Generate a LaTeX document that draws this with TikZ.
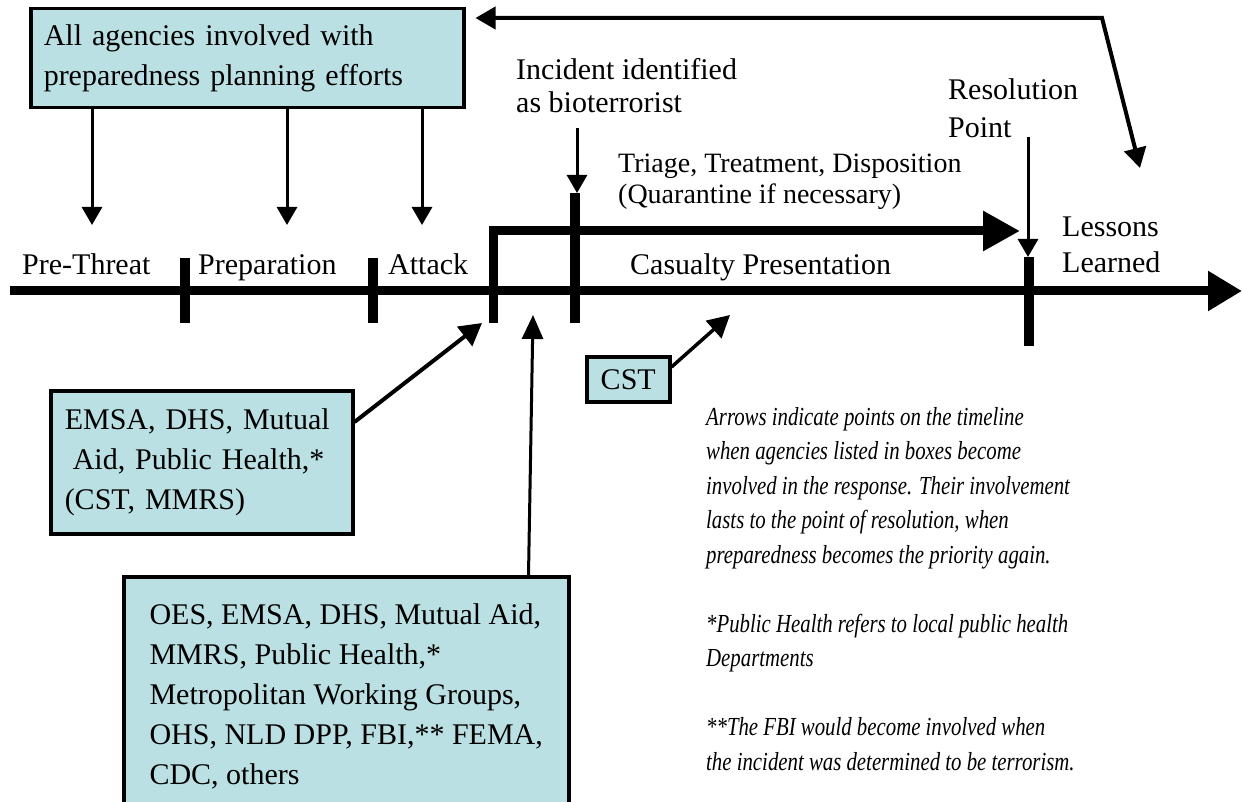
\documentclass[tikz,border=0pt]{standalone}
\usepackage{fontspec}
\setmainfont{Liberation Serif}
\newfontfamily\notefont[FakeStretch=0.8]{Liberation Serif}
\usepackage{tikz}
\usetikzlibrary{arrows.meta,positioning}
\usepackage{xcolor}
\definecolor{tlteal}{RGB}{187,224,227}
\tikzstyle{agencybox} = [draw=black, line width=3.5pt, fill=tlteal, font=\fontsize{30}{40}\selectfont]
\tikzstyle{phase} = [inner sep=0pt, anchor=base west, font=\fontsize{30}{40}\selectfont]
\tikzstyle{event} = [inner sep=0pt, anchor=base west, align=left, font=\fontsize{30}{36}\selectfont]
\tikzstyle{timeline} = [line width=9pt, -{Triangle[length=34pt,width=38pt]}]
\tikzstyle{tickmark} = [line width=10pt]
\tikzstyle{bracket} = [line width=9pt, line join=miter, -{Triangle[length=37pt,width=38pt]}]
\tikzstyle{pointer} = [line width=3pt, -{Triangle[length=18pt,width=20pt]}]
\tikzstyle{feedback} = [line width=4pt, line join=miter, {Triangle[length=20pt,width=22pt]}-{Triangle[length=20pt,width=22pt]}]

\begin{document}
\begin{tikzpicture}[x=1pt, y=-1pt]
\useasboundingbox (0,0) rectangle (1242,802);

% Timeline
\coordinate (tlstart) at (10,291);
\coordinate (tlend) at (1242,291);
\draw[timeline] (tlstart) -- (tlend);
\draw[tickmark] (185,258) -- (185,323);
\draw[tickmark] (373,258) -- (373,323);
\draw[tickmark] (575,193) -- (575,323);
\draw[tickmark] (1029,257) -- (1029,346);
\coordinate (responsestart) at (493,323);
\coordinate (responsecorner) at (493,231);
\coordinate (responseend) at (1020,231);
\draw[bracket] (responsestart) -- (responsecorner) -- (responseend);

% Phases (multi-line labels sit on their last line)
\node[phase] (prethreat) at (22,275) {Pre-Threat};
\node[phase] (preparation) at (198,275) {Preparation};
\node[phase] (attack) at (388,275) {Attack};
\node[phase] (casualty) at (630,275) {Casualty Presentation};
\node[event, font=\fontsize{28}{31}\selectfont] (triage) at (618,204) {Triage, Treatment, Disposition\\(Quarantine if necessary)};
\node[event, font=\fontsize{30}{33}\selectfont] (incident) at (516,113) {Incident identified\\as bioterrorist};
\node[event, font=\fontsize{30}{38}\selectfont] (resolution) at (948,138) {Resolution\\Point};
\node[event] (lessons) at (1062,273) {Lessons\\Learned};

% Agency boxes
\node[agencybox, anchor=north west, text width=407pt, inner xsep=13pt, minimum height=99pt, align=left] (planning) at (29,7) {All agencies involved with\\preparedness planning efforts};
\node[agencybox, anchor=north west, text width=274pt, inner xsep=14pt, minimum height=143pt, align=left] (emsa) at (49,389) {EMSA, DHS, Mutual\\\hspace*{8pt}Aid, Public Health,*\\(CST, MMRS)};
\node[agencybox, anchor=north west, minimum width=445pt, inner ysep=26.5pt, align=left] (responders) at (122,575) {OES, EMSA, DHS, Mutual Aid,\\MMRS, Public Health,*\\Metropolitan Working Groups,\\OHS, NLD DPP, FBI,** FEMA,\\CDC, others};
\node[agencybox, anchor=north west, minimum width=83pt, minimum height=45pt, inner sep=0pt] (cst) at (585,355) {CST};

% Notes
\node[anchor=base west, inner sep=0pt, align=left, font=\notefont\itshape\fontsize{26}{34.5}\selectfont] (note) at (706,770) {Arrows indicate points on the timeline\\when agencies listed in boxes become\\involved in the response. Their involvement\\lasts to the point of resolution, when\\preparedness becomes the priority again.\\[34.5pt]*Public Health refers to local public health\\Departments\\[34.5pt]**The FBI would become involved when\\the incident was determined to be terrorism.};

% Arrows
\coordinate (prethreatin) at (92,225);
\coordinate (preparationin) at (287,225);
\coordinate (attackin) at (422,225);
\draw[pointer] (planning.south -| prethreatin) -- (prethreatin);
\draw[pointer] (planning.south -| preparationin) -- (preparationin);
\draw[pointer] (planning.south -| attackin) -- (attackin);
\coordinate (identfrom) at (577,128);
\coordinate (identin) at (577,193);
\draw[pointer] (identfrom) -- (identin);
\coordinate (resfrom) at (1028,137);
\coordinate (resin) at (1028,257);
\draw[pointer] (resfrom) -- (resin);
\coordinate (loopbend) at (1102,18);
\coordinate (lessonsin) at (1140,168);
\draw[feedback] ([xshift=10pt]planning.east |- loopbend) -- (loopbend) -- (lessonsin);
\coordinate (attackend) at (482,323);
\draw[pointer, line width=4pt, -{Triangle[length=22pt,width=24pt]}] ([yshift=-33pt]emsa.north east) -- (attackend);
\coordinate (responsein) at (533,315);
\draw[pointer, -{Triangle[length=24pt,width=21pt]}] ([xshift=-42pt]responders.north east) -- (responsein);
\coordinate (cstin) at (730,315);
\draw[pointer, line width=3.5pt, -{Triangle[length=22pt,width=23pt]}] ([yshift=-12pt]cst.north east) -- (cstin);
\end{tikzpicture}
\end{document}
